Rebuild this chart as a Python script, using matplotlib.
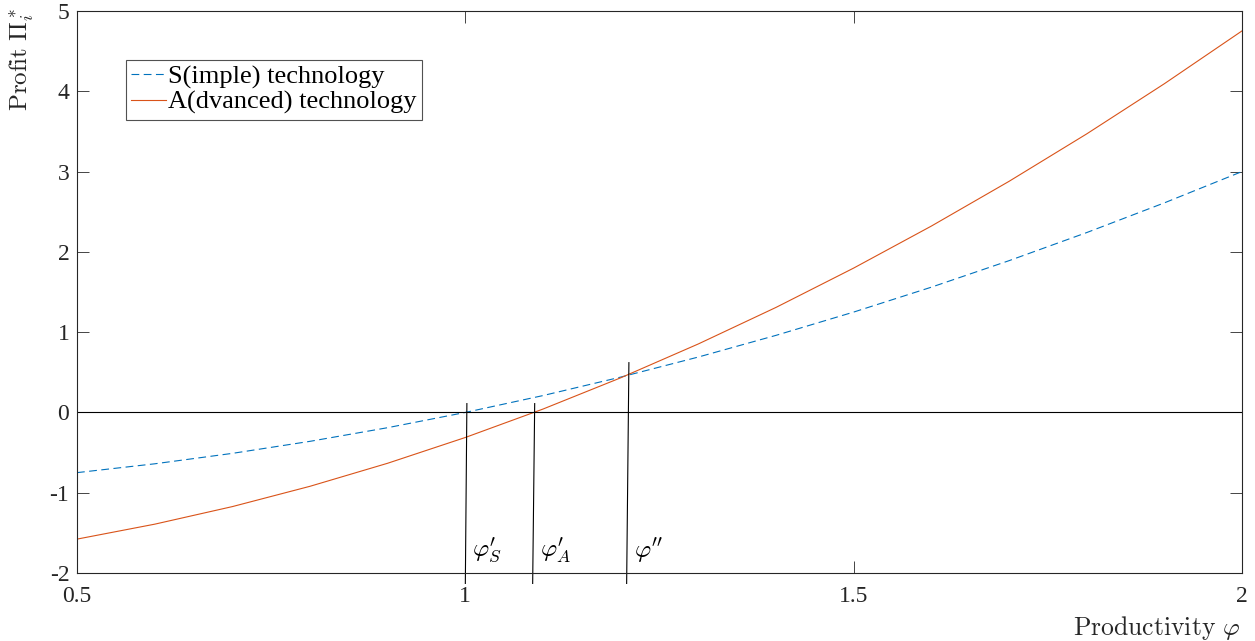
import matplotlib
matplotlib.use('Agg')
import matplotlib.pyplot as plt
import numpy as np

plt.rcParams['font.family'] = ['Liberation Serif', 'DejaVu Serif']
plt.rcParams['mathtext.fontset'] = 'cm'
plt.rcParams['axes.unicode_minus'] = False

# values
phi = [0.5, 0.6, 0.7, 0.8, 0.9, 1.0, 1.1, 1.2, 1.3, 1.4, 1.5, 1.6, 1.7, 1.8, 1.9, 2.0]
profit_simple = [-0.75, -0.64, -0.51, -0.36, -0.19, 0.00, 0.21, 0.44, 0.69, 0.96,
                 1.25, 1.56, 1.89, 2.24, 2.61, 3.00]
profit_advanced = [-1.578, -1.392, -1.173, -0.920, -0.633, -0.312, 0.042, 0.431, 0.853, 1.308,
                   1.798, 2.321, 2.878, 3.469, 4.094, 4.752]

# threshold markers: (x bottom, x top, y top, label)
thresholds = [
    (1.0000, 1.0020, 0.11, r"$\varphi^{\prime}_S$"),
    (1.0867, 1.0893, 0.11, r"$\varphi^{\prime}_A$"),
    (1.2077, 1.2106, 0.62, r"$\varphi^{\prime\prime}$"),
]
xticks = [0.5, 1, 1.5, 2]
xticklabels = ['0.5', '1', '1.5', '2']
yticks = [-2, -1, 0, 1, 2, 3, 4, 5]

fig = plt.figure(figsize=(12.55, 6.41), dpi=100)
ax = fig.add_axes([77 / 1255, 68 / 641, 1165 / 1255, 562 / 641])

ax.plot(phi, profit_simple, '--', color='#0072BD', lw=0.8, dashes=(7, 4),
        label='S(imple) technology')
ax.plot(phi, profit_advanced, '-', color='#D95319', lw=0.8,
        label='A(dvanced) technology')
ax.axhline(0, color='black', lw=0.8)

for xb, xt, yt, lab in thresholds:
    ax.plot([xb, xt], [-2.13, yt], color='black', lw=0.8, clip_on=False)
    ax.text(xt + 0.007, -1.72, lab, fontsize=18, ha='left', va='center')

ax.set_xlim(0.5, 2)
ax.set_ylim(-2, 5)
ax.set_xticks(xticks)
ax.set_xticklabels(xticklabels)
ax.set_yticks(yticks)
ax.tick_params(direction='in', length=8.5, width=0.6, top=True, right=True,
               labelsize=17, colors='#262626')
ax.tick_params(axis='x', pad=9)
ax.tick_params(axis='y', pad=5.5)
for s in ax.spines.values():
    s.set_linewidth(0.8)
    s.set_color('#262626')

leg = ax.legend(loc='upper left', bbox_to_anchor=(0.042, 0.913), borderaxespad=0,
                fontsize=19, frameon=True, fancybox=False, handlelength=1.3,
                handletextpad=0.1, borderpad=0.2, labelspacing=0.05)
leg.get_frame().set_edgecolor('#262626')
leg.get_frame().set_linewidth(0.8)

fig.text(1240 / 1255, 1 - 628 / 641, r'$\mathrm{Productivity}\ \varphi$',
         fontsize=18.5, ha='right', va='center', color='#262626')
fig.text(22 / 1255, 1 - 8 / 641, r'$\mathrm{Profit}\ \Pi_i^*$',
         fontsize=18, rotation=90, ha='center', va='top', color='#262626')

fig.savefig('out.png', dpi=100)
